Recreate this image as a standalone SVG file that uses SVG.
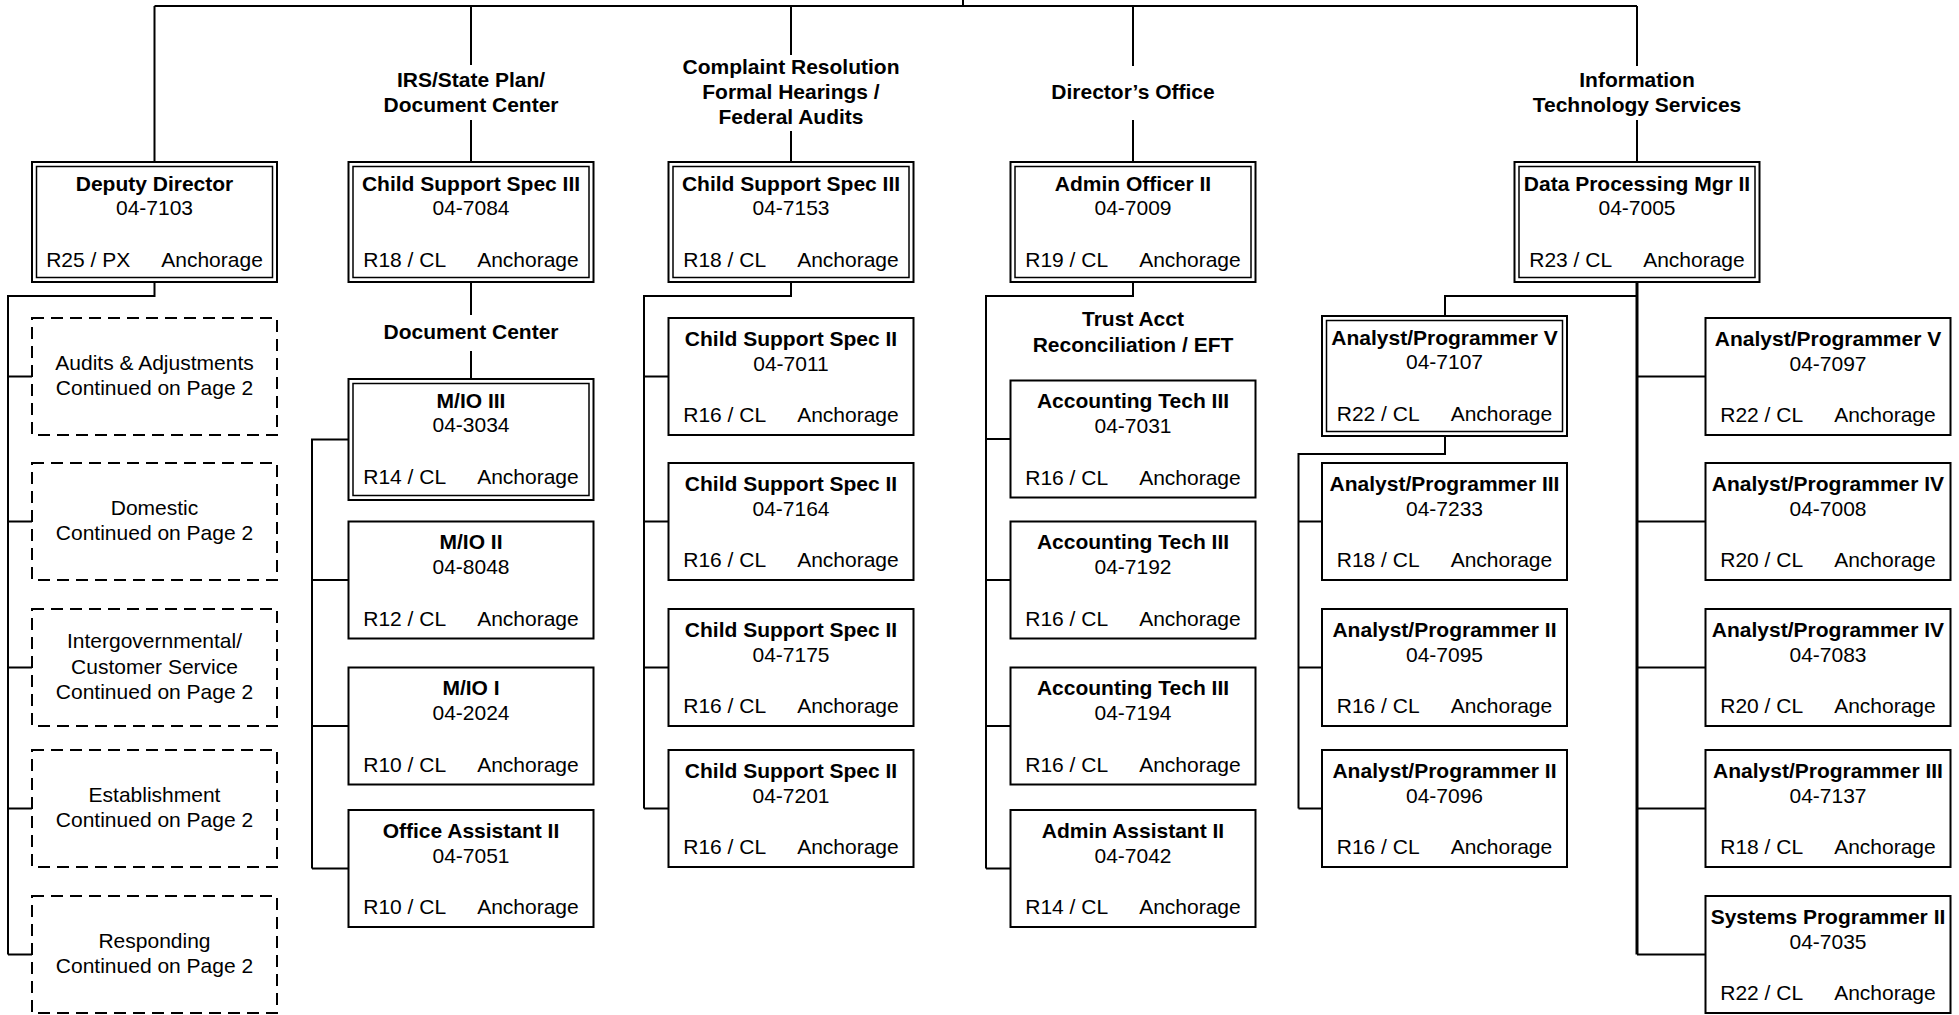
<svg xmlns="http://www.w3.org/2000/svg" width="1959" height="1015" viewBox="0 0 1959 1015">
<style>
.bx{fill:#fff;stroke:#000;stroke-width:2}
.in{fill:none;stroke:#000;stroke-width:1.5}
.ds{fill:#fff;stroke:#000;stroke-width:2;stroke-dasharray:12 7}
.c{fill:none;stroke:#000;stroke-width:2}
.ck{fill:none;stroke:#000;stroke-width:3}
text{font-family:"Liberation Sans",Arial,sans-serif;font-size:21px;text-anchor:middle;fill:#000}
.b{font-weight:bold}
</style>
<rect width="1959" height="1015" fill="#fff"/>
<g id="connectors">
<path class="c" d="M154.5,6H1637M963,0V6"/>
<path class="c" d="M154.5,6V162M154.5,282V296H8V954.5M8,376.5H32M8,521.5H32M8,667.5H32M8,808.5H32M8,954.5H32"/>
<path class="c" d="M471,6V65M471,120V162M471,282V315M471,351V379M348.5,439.5H312V868.5M312,580H348.5M312,726H348.5M312,868.5H348.5"/>
<path class="c" d="M791,6V55M791,131V162M791,282V296H644V808.5M644,376.5H668.5M644,521.5H668.5M644,667.5H668.5M644,808.5H668.5"/>
<path class="c" d="M1133,6V66M1133,120V162M1133,282V296H986V868.5M986,439H1010.5M986,580H1010.5M986,726H1010.5M986,868.5H1010.5"/>
<path class="c" d="M1637,6V66M1637,120V162"/>
<path class="ck" d="M1637,282V954.5"/>
<path class="c" d="M1637,296H1445V316M1637,376.5H1705.5M1637,521.5H1705.5M1637,667.5H1705.5M1637,808.5H1705.5M1637,954.5H1705.5M1445,436V454H1298.5V808.5M1298.5,521.5H1322M1298.5,667.5H1322M1298.5,808.5H1322"/>
</g>
<g id="labels">
<text class="b" x="471" y="87">IRS/State Plan/</text>
<text class="b" x="471" y="112">Document Center</text>
<text class="b" x="791" y="74">Complaint Resolution</text>
<text class="b" x="791" y="99">Formal Hearings /</text>
<text class="b" x="791" y="124">Federal Audits</text>
<text class="b" x="1133" y="99">Director’s Office</text>
<text class="b" x="1637" y="87">Information</text>
<text class="b" x="1637" y="112">Technology Services</text>
<text class="b" x="471" y="339">Document Center</text>
<text class="b" x="1133" y="326">Trust Acct</text>
<text class="b" x="1133" y="351.5">Reconciliation / EFT</text>
</g>
<g id="deputy-director"><rect class="bx" x="32" y="162" width="245" height="120"/><rect class="in" x="36.5" y="166.5" width="236" height="111"/><text class="b" x="154.5" y="190.5">Deputy Director</text><text x="154.5" y="215">04-7103</text><text x="154.5" y="266.5">R25 / PX<tspan dx="31">Anchorage</tspan></text></g>
<g id="irs-csspec3"><rect class="bx" x="348.5" y="162" width="245" height="120"/><rect class="in" x="353" y="166.5" width="236" height="111"/><text class="b" x="471" y="190.5">Child Support Spec III</text><text x="471" y="215">04-7084</text><text x="471" y="266.5">R18 / CL<tspan dx="31">Anchorage</tspan></text></g>
<g id="complaint-csspec3"><rect class="bx" x="668.5" y="162" width="245" height="120"/><rect class="in" x="673" y="166.5" width="236" height="111"/><text class="b" x="791" y="190.5">Child Support Spec III</text><text x="791" y="215">04-7153</text><text x="791" y="266.5">R18 / CL<tspan dx="31">Anchorage</tspan></text></g>
<g id="admin-officer2"><rect class="bx" x="1010.5" y="162" width="245" height="120"/><rect class="in" x="1015" y="166.5" width="236" height="111"/><text class="b" x="1133" y="190.5">Admin Officer II</text><text x="1133" y="215">04-7009</text><text x="1133" y="266.5">R19 / CL<tspan dx="31">Anchorage</tspan></text></g>
<g id="dp-mgr2"><rect class="bx" x="1514.5" y="162" width="245" height="120"/><rect class="in" x="1519" y="166.5" width="236" height="111"/><text class="b" x="1637" y="190.5">Data Processing Mgr II</text><text x="1637" y="215">04-7005</text><text x="1637" y="266.5">R23 / CL<tspan dx="31">Anchorage</tspan></text></g>
<g id="audits"><rect class="ds" x="32" y="318" width="245" height="117"/><text x="154.5" y="369.5">Audits &amp; Adjustments</text><text x="154.5" y="395">Continued on Page 2</text></g>
<g id="domestic"><rect class="ds" x="32" y="463" width="245" height="117"/><text x="154.5" y="514.5">Domestic</text><text x="154.5" y="540">Continued on Page 2</text></g>
<g id="intergov"><rect class="ds" x="32" y="609" width="245" height="117"/><text x="154.5" y="648">Intergovernmental/</text><text x="154.5" y="673.5">Customer Service</text><text x="154.5" y="699">Continued on Page 2</text></g>
<g id="establishment"><rect class="ds" x="32" y="750" width="245" height="117"/><text x="154.5" y="801.5">Establishment</text><text x="154.5" y="827">Continued on Page 2</text></g>
<g id="responding"><rect class="ds" x="32" y="896" width="245" height="117"/><text x="154.5" y="947.5">Responding</text><text x="154.5" y="973">Continued on Page 2</text></g>
<g id="mio3"><rect class="bx" x="348.5" y="379" width="245" height="121"/><rect class="in" x="353" y="383.5" width="236" height="112"/><text class="b" x="471" y="407.5">M/IO III</text><text x="471" y="432">04-3034</text><text x="471" y="483.5">R14 / CL<tspan dx="31">Anchorage</tspan></text></g>
<g id="mio2"><rect class="bx" x="348.5" y="521.5" width="245" height="117"/><text class="b" x="471" y="549">M/IO II</text><text x="471" y="574">04-8048</text><text x="471" y="625.5">R12 / CL<tspan dx="31">Anchorage</tspan></text></g>
<g id="mio1"><rect class="bx" x="348.5" y="667.5" width="245" height="117"/><text class="b" x="471" y="695">M/IO I</text><text x="471" y="720">04-2024</text><text x="471" y="771.5">R10 / CL<tspan dx="31">Anchorage</tspan></text></g>
<g id="office-asst2"><rect class="bx" x="348.5" y="810" width="245" height="117"/><text class="b" x="471" y="837.5">Office Assistant II</text><text x="471" y="862.5">04-7051</text><text x="471" y="914">R10 / CL<tspan dx="31">Anchorage</tspan></text></g>
<g id="css2-7011"><rect class="bx" x="668.5" y="318" width="245" height="117"/><text class="b" x="791" y="345.5">Child Support Spec II</text><text x="791" y="370.5">04-7011</text><text x="791" y="422">R16 / CL<tspan dx="31">Anchorage</tspan></text></g>
<g id="css2-7164"><rect class="bx" x="668.5" y="463" width="245" height="117"/><text class="b" x="791" y="490.5">Child Support Spec II</text><text x="791" y="515.5">04-7164</text><text x="791" y="567">R16 / CL<tspan dx="31">Anchorage</tspan></text></g>
<g id="css2-7175"><rect class="bx" x="668.5" y="609" width="245" height="117"/><text class="b" x="791" y="636.5">Child Support Spec II</text><text x="791" y="661.5">04-7175</text><text x="791" y="713">R16 / CL<tspan dx="31">Anchorage</tspan></text></g>
<g id="css2-7201"><rect class="bx" x="668.5" y="750" width="245" height="117"/><text class="b" x="791" y="777.5">Child Support Spec II</text><text x="791" y="802.5">04-7201</text><text x="791" y="854">R16 / CL<tspan dx="31">Anchorage</tspan></text></g>
<g id="acct3-7031"><rect class="bx" x="1010.5" y="380.5" width="245" height="117"/><text class="b" x="1133" y="408">Accounting Tech III</text><text x="1133" y="433">04-7031</text><text x="1133" y="484.5">R16 / CL<tspan dx="31">Anchorage</tspan></text></g>
<g id="acct3-7192"><rect class="bx" x="1010.5" y="521.5" width="245" height="117"/><text class="b" x="1133" y="549">Accounting Tech III</text><text x="1133" y="574">04-7192</text><text x="1133" y="625.5">R16 / CL<tspan dx="31">Anchorage</tspan></text></g>
<g id="acct3-7194"><rect class="bx" x="1010.5" y="667.5" width="245" height="117"/><text class="b" x="1133" y="695">Accounting Tech III</text><text x="1133" y="720">04-7194</text><text x="1133" y="771.5">R16 / CL<tspan dx="31">Anchorage</tspan></text></g>
<g id="admin-asst2"><rect class="bx" x="1010.5" y="810" width="245" height="117"/><text class="b" x="1133" y="837.5">Admin Assistant II</text><text x="1133" y="862.5">04-7042</text><text x="1133" y="914">R14 / CL<tspan dx="31">Anchorage</tspan></text></g>
<g id="ap5-7107"><rect class="bx" x="1322" y="316" width="245" height="120"/><rect class="in" x="1326.5" y="320.5" width="236" height="111"/><text class="b" x="1444.5" y="344.5">Analyst/Programmer V</text><text x="1444.5" y="369">04-7107</text><text x="1444.5" y="420.5">R22 / CL<tspan dx="31">Anchorage</tspan></text></g>
<g id="ap3-7233"><rect class="bx" x="1322" y="463" width="245" height="117"/><text class="b" x="1444.5" y="490.5">Analyst/Programmer III</text><text x="1444.5" y="515.5">04-7233</text><text x="1444.5" y="567">R18 / CL<tspan dx="31">Anchorage</tspan></text></g>
<g id="ap2-7095"><rect class="bx" x="1322" y="609" width="245" height="117"/><text class="b" x="1444.5" y="636.5">Analyst/Programmer II</text><text x="1444.5" y="661.5">04-7095</text><text x="1444.5" y="713">R16 / CL<tspan dx="31">Anchorage</tspan></text></g>
<g id="ap2-7096"><rect class="bx" x="1322" y="750" width="245" height="117"/><text class="b" x="1444.5" y="777.5">Analyst/Programmer II</text><text x="1444.5" y="802.5">04-7096</text><text x="1444.5" y="854">R16 / CL<tspan dx="31">Anchorage</tspan></text></g>
<g id="ap5-7097"><rect class="bx" x="1705.5" y="318" width="245" height="117"/><text class="b" x="1828" y="345.5">Analyst/Programmer V</text><text x="1828" y="370.5">04-7097</text><text x="1828" y="422">R22 / CL<tspan dx="31">Anchorage</tspan></text></g>
<g id="ap4-7008"><rect class="bx" x="1705.5" y="463" width="245" height="117"/><text class="b" x="1828" y="490.5">Analyst/Programmer IV</text><text x="1828" y="515.5">04-7008</text><text x="1828" y="567">R20 / CL<tspan dx="31">Anchorage</tspan></text></g>
<g id="ap4-7083"><rect class="bx" x="1705.5" y="609" width="245" height="117"/><text class="b" x="1828" y="636.5">Analyst/Programmer IV</text><text x="1828" y="661.5">04-7083</text><text x="1828" y="713">R20 / CL<tspan dx="31">Anchorage</tspan></text></g>
<g id="ap3-7137"><rect class="bx" x="1705.5" y="750" width="245" height="117"/><text class="b" x="1828" y="777.5">Analyst/Programmer III</text><text x="1828" y="802.5">04-7137</text><text x="1828" y="854">R18 / CL<tspan dx="31">Anchorage</tspan></text></g>
<g id="sysprog2-7035"><rect class="bx" x="1705.5" y="896" width="245" height="117"/><text class="b" x="1828" y="923.5">Systems Programmer II</text><text x="1828" y="948.5">04-7035</text><text x="1828" y="1000">R22 / CL<tspan dx="31">Anchorage</tspan></text></g>
</svg>
